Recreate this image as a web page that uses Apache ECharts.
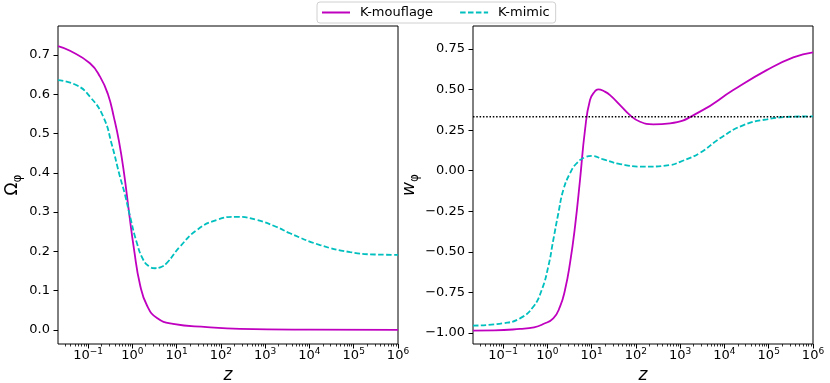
<!DOCTYPE html>
<html>
<head>
<meta charset="utf-8">
<script src="https://cdn.jsdelivr.net/npm/echarts@6/dist/echarts.min.js"></script>
<style>
  html, body { margin: 0; padding: 0; background: #fff; }
  #chart { width: 830px; height: 383px; }
</style>
</head>
<body>
<div id="chart"></div>
<script>
// x range (redshift z, log axis)
const zMin = 0.0209;
const zMax = 1e6;
const xMajorTicks = [0.1, 1, 10, 100, 1e3, 1e4, 1e5, 1e6];

// left panel: Omega_phi
const zOmegaMouf = [0.0209, 0.039, 0.11, 0.186, 0.281, 0.385, 0.499, 0.647, 0.839, 1.09, 1.49, 2.14, 3.6, 8.28, 48.5, 270, 1e4, 1e6];
const omegaMouf = [0.723, 0.711, 0.679, 0.645, 0.60, 0.54, 0.48, 0.40, 0.30, 0.205, 0.115, 0.062, 0.030, 0.015, 0.007, 0.0025, 0.0005, 0.0];
const zOmegaMimic = [0.0209, 0.0552, 0.11, 0.22, 0.347, 0.511, 0.679, 0.883, 1.25, 1.77, 2.38, 3.24, 4.43, 5.96, 11.9, 28.4, 80.4, 228, 646, 1820, 3630, 17400, 83200, 302000, 1e6];
const omegaMimic = [0.636, 0.623, 0.594, 0.543, 0.47, 0.395, 0.345, 0.29, 0.223, 0.178, 0.162, 0.157, 0.160, 0.170, 0.212, 0.254, 0.280, 0.288, 0.280, 0.262, 0.246, 0.216, 0.198, 0.192, 0.191];
const omegaTicks = [0, 0.1, 0.2, 0.3, 0.4, 0.5, 0.6, 0.7];

// right panel: w_phi
const zWMouf = [0.0209, 0.063, 0.241, 0.5, 0.809, 1.36, 1.93, 2.5, 3.24, 4.21, 5.46, 7.08, 9.18, 11.9, 14.0, 19.6, 26.0, 43.8, 73.5, 124, 247, 589, 2800, 15800, 90000, 359000, 1e6];
const wMouf = [-0.985, -0.984, -0.975, -0.965, -0.945, -0.91, -0.838, -0.735, -0.571, -0.345, -0.057, 0.251, 0.436, 0.49, 0.502, 0.488, 0.466, 0.405, 0.343, 0.302, 0.286, 0.292, 0.364, 0.497, 0.62, 0.699, 0.73];
const zWMimic = [0.0209, 0.101, 0.241, 0.481, 0.745, 1.05, 1.36, 1.77, 2.29, 3.24, 4.59, 7.08, 10.0, 18.3, 43.8, 147, 589, 1000, 2800, 7940, 26300, 91200, 355000, 1e6];
const wMimic = [-0.955, -0.94, -0.91, -0.838, -0.735, -0.59, -0.427, -0.262, -0.119, -0.016, 0.046, 0.083, 0.091, 0.07, 0.041, 0.025, 0.035, 0.055, 0.11, 0.2, 0.28, 0.317, 0.333, 0.335];
const wRadiation = 1 / 3;
const wTicks = [-1, -0.75, -0.5, -0.25, 0, 0.25, 0.5, 0.75];

const MAG = '#bf00bf';
const CYA = '#00bfbf';
const FONT = 'DejaVu Sans';

function zip(xs, ys) { return xs.map((x, i) => [x, ys[i]]); }

// matplotlib style minor ticks 2..9 x 10^n
const xMinorTicks = [];
for (let e = -2; e < 6; e++) {
  for (let m = 2; m <= 9; m++) {
    const v = m * Math.pow(10, e);
    if (v > zMin && v < zMax) xMinorTicks.push(v);
  }
}

function powLabel(v) {
  const e = Math.round(Math.log10(v));
  return '{b|10}{s|' + String(e).replace('-', '\u2212') + '}';
}

function xAxes(grid) {
  return [{
    type: 'log', gridIndex: grid, logBase: 10, min: zMin, max: zMax, position: 'bottom',
    axisLine: { show: false, onZero: false },
    axisTick: { customValues: xMajorTicks, length: 4.5, lineStyle: { color: '#000', width: 1 } },
    axisLabel: {
      customValues: xMajorTicks, formatter: powLabel, margin: 3, color: '#000',
      rich: {
        b: { fontFamily: FONT, fontSize: 13, color: '#000', lineHeight: 15, padding: [5, 0, 0, 0], verticalAlign: 'bottom' },
        s: { fontFamily: FONT, fontSize: 9, color: '#000', lineHeight: 10, verticalAlign: 'top' }
      }
    },
    splitLine: { show: false },
    name: 'z', nameLocation: 'middle', nameGap: 22,
    nameTextStyle: { fontFamily: FONT, fontSize: 17, fontStyle: 'italic', color: '#000' }
  }, {
    type: 'log', gridIndex: grid, logBase: 10, min: zMin, max: zMax, position: 'bottom',
    axisLine: { show: false, onZero: false },
    axisTick: { customValues: xMinorTicks, length: 2.5, lineStyle: { color: '#000', width: 0.8 } },
    axisLabel: { show: false },
    splitLine: { show: false }
  }];
}

function lineSeries(name, xi, yi, xs, ys, color, dash) {
  return {
    name: name, type: 'line', xAxisIndex: xi, yAxisIndex: yi, data: zip(xs, ys),
    showSymbol: false, symbol: 'none', smooth: 0.5, color: color,
    lineStyle: { color: color, width: 1.8, type: dash || 'solid' }
  };
}

const chart = echarts.init(document.getElementById('chart'));
chart.setOption({
  animation: false,
  backgroundColor: '#fff',
  textStyle: { fontFamily: FONT },
  legend: {
    data: ['K-mouflage', 'K-mimic'],
    left: 317, top: 2,
    padding: [4, 6, 4, 4],
    itemWidth: 28, itemHeight: 13, itemGap: 26,
    itemStyle: { opacity: 0, borderWidth: 0 },
    borderColor: '#d0d0d0', borderWidth: 1, borderRadius: 3,
    textStyle: { fontFamily: FONT, fontSize: 13, color: '#000', padding: [0, 0, 0, 5] }
  },
  grid: [
    { left: 58, right: 432, top: 26, bottom: 39, outerBoundsMode: 'none', containLabel: false,
      show: true, borderColor: '#000', borderWidth: 1 },
    { left: 473, right: 17, top: 26, bottom: 39, outerBoundsMode: 'none', containLabel: false,
      show: true, borderColor: '#000', borderWidth: 1 }
  ],
  xAxis: xAxes(0).concat(xAxes(1)),
  yAxis: [{
    type: 'value', gridIndex: 0, min: -0.036, max: 0.774,
    axisLine: { show: false, onZero: false },
    axisTick: { customValues: omegaTicks, length: 4.5, lineStyle: { color: '#000' } },
    axisLabel: { customValues: omegaTicks, formatter: v => v.toFixed(1), fontSize: 13, color: '#000', margin: 8 },
    splitLine: { show: false },
    name: '{o|\u03A9}{s|\u03C6}', nameLocation: 'middle', nameGap: 34, nameRotate: 90,
    nameTextStyle: {
      rich: {
        o: { fontFamily: FONT, fontSize: 17, color: '#000', lineHeight: 20, verticalAlign: 'top' },
        s: { fontFamily: FONT, fontSize: 12, color: '#000', lineHeight: 14, padding: [10, 0, 0, 0], verticalAlign: 'bottom' }
      }
    }
  }, {
    type: 'value', gridIndex: 1, min: -1.068, max: 0.892,
    axisLine: { show: false, onZero: false },
    axisTick: { customValues: wTicks, length: 4.5, lineStyle: { color: '#000' } },
    axisLabel: { customValues: wTicks, formatter: v => v.toFixed(2).replace('-', '\u2212'), fontSize: 13, color: '#000', margin: 8 },
    splitLine: { show: false },
    name: '{w|w}{s|\u03C6}', nameLocation: 'middle', nameGap: 52, nameRotate: 90,
    nameTextStyle: {
      rich: {
        w: { fontFamily: FONT, fontSize: 17, fontStyle: 'italic', color: '#000', lineHeight: 20, verticalAlign: 'top' },
        s: { fontFamily: FONT, fontSize: 12, color: '#000', lineHeight: 14, padding: [10, 0, 0, 0], verticalAlign: 'bottom' }
      }
    }
  }],
  series: [
    lineSeries('K-mouflage', 0, 0, zOmegaMouf, omegaMouf, MAG),
    lineSeries('K-mimic', 0, 0, zOmegaMimic, omegaMimic, CYA, [5.5, 2.4]),
    lineSeries('K-mouflage', 2, 1, zWMouf, wMouf, MAG),
    lineSeries('K-mimic', 2, 1, zWMimic, wMimic, CYA, [5.5, 2.4]),
    {
      name: 'radiation', type: 'line', xAxisIndex: 2, yAxisIndex: 1,
      data: [[zMin, wRadiation], [zMax, wRadiation]],
      showSymbol: false, symbol: 'none', color: '#000',
      lineStyle: { color: '#000', width: 1.5, type: [1.5, 1.8] }
    }
  ]
});
</script>
</body>
</html>
